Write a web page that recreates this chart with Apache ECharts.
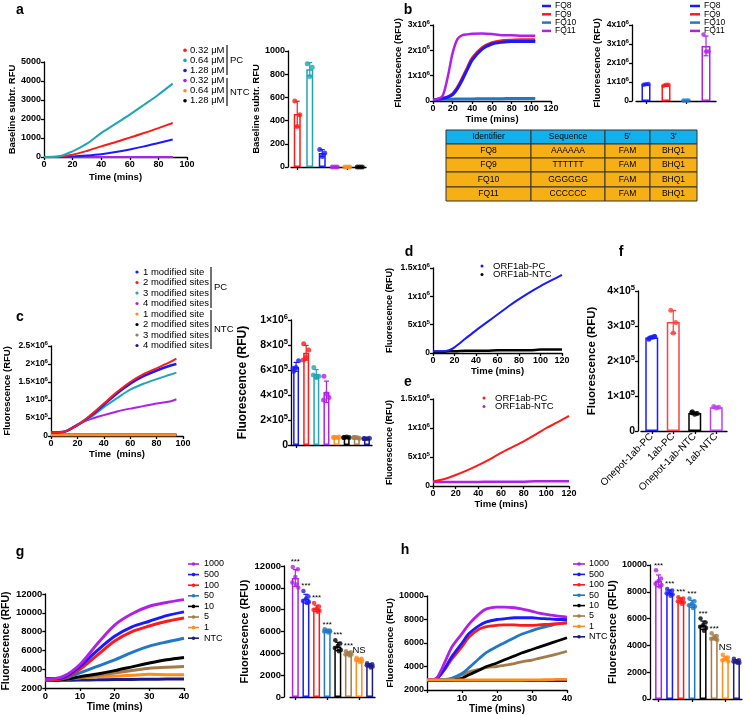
<!DOCTYPE html>
<html><head><meta charset="utf-8">
<script src="https://cdn.jsdelivr.net/npm/echarts/dist/echarts.min.js"></script>
<style>html,body{margin:0;padding:0;background:#fff}#c{width:745px;height:715px}</style>
</head><body><div id="c"></div>
<script>
// ---------------- DATA ----------------
// Panel a
const aTime = [0,10,20,30,40,50,60,70,80,90];
const aPC032 = [0,20,120,320,560,780,1020,1260,1520,1790];
const aPC064 = [0,30,300,700,1260,1740,2230,2750,3280,3860];
const aPC128 = [0,5,30,80,150,260,400,560,740,920];
const aNTC   = [0,0,0,0,0,0,0,0,0,0];
const aLegend = ['0.32 μM','0.64 μM','1.28 μM','0.32 μM','0.64 μM','1.28 μM'];
const aBarPts = [[570,450,350],[890,860,780],[150,120,90],[0,0,0],[0,0,0],[0,0,0]];
// Panel b
const bTime = [0,5,10,15,20,25,30,35,40,50,60,70,80,90,100,104];
const bFQ8  = [0.05,0.07,0.1,0.15,0.25,0.5,0.85,1.25,1.62,2.05,2.25,2.32,2.35,2.35,2.35,2.35];
const bFQ9  = [0.05,0.07,0.1,0.16,0.28,0.55,0.92,1.32,1.7,2.1,2.3,2.38,2.4,2.42,2.42,2.42];
const bFQ10 = [0.06,0.06,0.07,0.07,0.07,0.08,0.08,0.08,0.08,0.09,0.09,0.09,0.1,0.1,0.1,0.1];
const bFQ11 = [0.05,0.08,0.22,0.95,1.9,2.45,2.6,2.63,2.65,2.66,2.64,2.6,2.6,2.58,2.58,2.58];
const bNames = ['FQ8','FQ9','FQ10','FQ11'];
const bBarPts = [[0.85,0.9,0.88],[0.8,0.85,0.85],[0.02,0.02,0.02],[3.5,2.6,2.6]];
const tblHead = ['Identifier','Sequence','5′','3′'];
const tblRows = [['FQ8','AAAAAA','FAM','BHQ1'],['FQ9','TTTTTT','FAM','BHQ1'],['FQ10','GGGGGG','FAM','BHQ1'],['FQ11','CCCCCC','FAM','BHQ1']];
// Panel c
const cTime = [0,10,20,30,40,50,60,70,80,90,95];
const c1 = [0.1,0.12,0.3,0.56,0.87,1.18,1.45,1.66,1.82,1.95,2.0];
const c2 = [0.1,0.12,0.3,0.58,0.9,1.22,1.5,1.72,1.88,2.05,2.15];
const c3 = [0.1,0.12,0.3,0.52,0.8,1.05,1.29,1.45,1.58,1.7,1.76];
const c4 = [0.1,0.12,0.32,0.47,0.58,0.68,0.76,0.83,0.9,0.96,1.02];
const cNTC = [0.03,0.03,0.03,0.03,0.03,0.03,0.03,0.03,0.03,0.03,0.03];
const cLegend = ['1 modified site','2 modified sites','3 modified sites','4 modified sites','1 modified site','2 modified sites','3 modified sites','4 modified sites'];
const cBarPts = [[5.9,6.75,6.2,6.15],[8.1,7.6,7.0,6.8],[6.2,5.5,5.4,5.6],[5.5,3.8,4.1,3.6],[0.6,0.65,0.6,0.62],[0.6,0.6,0.65,0.6],[0.6,0.55,0.6,0.6],[0.5,0.55,0.5,0.52]];
// Panel d, e
const dTime = [0,10,15,20,30,40,50,60,70,80,90,100,110,120];
const dPC  = [0.03,0.03,0.05,0.1,0.25,0.4,0.54,0.68,0.82,0.95,1.07,1.18,1.28,1.38];
const dNTC = [0.02,0.02,0.03,0.03,0.04,0.04,0.04,0.05,0.05,0.05,0.05,0.06,0.06,0.06];
const eTime = [0,10,20,30,40,50,60,70,80,90,100,110,120];
const ePC  = [0.08,0.12,0.19,0.27,0.36,0.46,0.57,0.67,0.77,0.88,1.0,1.1,1.21];
const eNTC = [0.07,0.07,0.07,0.07,0.07,0.075,0.075,0.075,0.075,0.08,0.08,0.08,0.08];
const deLegend = ['ORF1ab-PC','ORF1ab-NTC'];
// Panel f
const fCats = ['Onepot-1ab-PC','1ab-PC','Onepot-1ab-NTC','1ab-NTC'];
const fPts = [[2.65,2.7,2.68,2.62,2.7],[3.45,3.1,2.8],[0.55,0.5,0.48,0.52],[0.7,0.68,0.66]];
// Panel g, h
const ghLegend = ['1000','500','100','50','10','5','1','NTC'];
const gTime = [0,5,10,15,20,25,30,35,40];
const gLines = [
  [2900,3200,4500,6700,8700,9900,10700,11100,11400],
  [3000,3100,4300,6000,7500,8500,9100,9700,10100],
  [2850,3000,4000,5500,7000,8000,8600,9100,9450],
  [2850,3000,3600,4300,5000,5800,6450,6900,7300],
  [2850,2900,3200,3500,3850,4250,4650,5000,5250],
  [2850,2900,3100,3350,3600,3850,4100,4200,4300],
  [2950,3000,3100,3200,3250,3350,3450,3420,3420],
  [2800,2820,2850,2870,2900,2910,2930,2950,2960]
];
const gBarPts = [
  [11900,11700,11000,10500,10000,10300],[9700,9200,9000,8800,8700,8600],
  [8600,8300,8100,8000,7900,7800],[6200,6100,6100,6000,6000,5900],
  [5200,4900,4700,4500,4300,4200],[4200,4100,4000,3900,3900,3800],
  [3600,3500,3400,3400,3300,3200],[3100,3000,2900,2900,2800,2700]
];
const hTime = [0,2,3,5,7,10,12,15,17,20,22,25,27,30,32,35,37,40];
const hLines = [
  [2900,2900,3100,4300,5600,6800,7600,8500,8900,9050,9050,9000,8900,8700,8550,8400,8300,8200],
  [2900,2900,3000,3800,4800,6000,6800,7500,7800,8000,8050,8150,8150,8150,8100,8050,8000,8000],
  [2900,2900,3000,3700,4600,5700,6500,7200,7400,7500,7550,7550,7500,7500,7550,7600,7650,7700],
  [2900,2900,2900,2900,3000,3400,3900,4700,5200,5700,6000,6450,6750,7050,7250,7450,7600,7750],
  [2800,2800,2800,2800,2850,3000,3300,3700,4000,4300,4550,4900,5150,5450,5650,5950,6150,6450],
  [2800,2800,2800,2850,2950,3300,3550,3750,3900,4000,4100,4250,4400,4550,4700,4900,5050,5300],
  [2850,2850,2850,2850,2850,2850,2850,2850,2850,2850,2850,2850,2850,2860,2870,2880,2900,2900],
  [2800,2800,2800,2800,2800,2800,2800,2800,2800,2800,2800,2800,2800,2800,2800,2800,2800,2800]
];
const hBarPts = [
  [9600,9000,8800,8600,8500,8400],[8200,8100,8000,7900,7800,7700],
  [7600,7500,7400,7300,7200,7100],[7500,7300,7100,7000,6900,6800],
  [6000,5700,5500,5400,5300,5100],[4900,4700,4600,4500,4400,4500],
  [3300,3100,3000,2900,2800,3000],[3000,2900,2800,2800,2700,2700]
];
const sigLabels = ['***','***','***','***','***','***','NS',''];

// ---------------- STYLE ----------------
const FONT = '"Liberation Sans", Arial, sans-serif';
const RED='#ff1a1a', BLUE='#1a1aff', CYAN='#1fa5b5', PURP='#b020e8', ORNG='#ff8c1a', BLK='#000000', BRWN='#a47a48', NAVY='#1a1a8a', STEEL='#1f78c8';
const aCols=[RED,CYAN,BLUE,PURP,ORNG,BLK];
const bCols=[BLUE,RED,STEEL,PURP];
const cCols=[BLUE,RED,CYAN,PURP,ORNG,BLK,BRWN,NAVY];
const ghCols=[PURP,BLUE,RED,STEEL,BLK,BRWN,ORNG,NAVY];
const JIT=[-2.5,2.5,0,-3,3,1];

function sci(sep, scale){ return v => { v=v*scale; if(Math.abs(v)<1e-9) return '{b|0}'; const e=Math.floor(Math.log10(v)+1e-9); const m=+(v/Math.pow(10,e)).toFixed(2); return '{b|'+m+sep+'10}{s|'+e+'}'; }; }
function richFor(fs){ return {b:{fontSize:fs,fontWeight:'bold',fontFamily:FONT,color:'#000',lineHeight:fs+3},
  s:{fontSize:Math.round(fs*0.72*10)/10,fontWeight:'bold',fontFamily:FONT,color:'#000',lineHeight:fs*0.72,verticalAlign:'top'}}; }
const plain = v=>String(v);

const grids=[], xAxes=[], yAxes=[], series=[], graphics=[];
function mkAxis(o){
  const fs=o.fs||9;
  const a={gridIndex:o.grid,type:o.type||'value',
    axisLine:{show:true,onZero:false,lineStyle:{color:'#000',width:1.3}},
    axisTick:{show:true,length:3,alignWithLabel:true,lineStyle:{color:'#000',width:1.3}},
    splitLine:{show:false},
    axisLabel:Object.assign({color:'#000',fontFamily:FONT,fontWeight:'bold',fontSize:fs,margin:3,rich:richFor(fs)},
      (o.type==='category')?{}:{formatter:plain}, o.label||{}),
    name:o.name||'',nameLocation:'middle',nameGap:o.gap||20,
    nameTextStyle:{color:'#000',fontFamily:FONT,fontWeight:'bold',fontSize:o.nfs||10}};
  ['min','max','interval','data','offset'].forEach(k=>{if(o[k]!==undefined)a[k]=o[k];});
  return a;
}
function panel(g,xo,yo){
  const i=grids.length;
  grids.push({left:g[0],top:g[1],width:g[2],height:g[3]});
  xo.grid=i; yo.grid=i;
  xAxes.push(mkAxis(xo)); yAxes.push(mkAxis(yo));
  return i;
}
function addLine(gi,xs,ys,color,w,z){
  series.push({type:'line',xAxisIndex:gi,yAxisIndex:gi,data:xs.map((x,i)=>[x,ys[i]]),symbol:'none',smooth:0.3,
    lineStyle:{color:color,width:w||2},itemStyle:{color:color},z:z||2,silent:true,animation:false});
}
function addBars(gi,pts,colors,opt){
  const means=pts.map(p=>p.reduce((a,b)=>a+b,0)/p.length);
  const sds=pts.map((p,i)=>{const m=means[i];return p.length>1?Math.sqrt(p.reduce((a,b)=>a+(b-m)*(b-m),0)/(p.length-1)):0;});
  series.push({type:'bar',xAxisIndex:gi,yAxisIndex:gi,barWidth:opt.bw,animation:false,silent:true,z:2,
    data:means.map((m,i)=>({value:m,itemStyle:{color:'rgba(255,255,255,0)',borderColor:colors[i],borderWidth:1.5}}))});
  series.push({type:'custom',xAxisIndex:gi,yAxisIndex:gi,animation:false,silent:true,z:4,
    data:means.map((m,i)=>[i,m,sds[i]]),
    renderItem:(params,api)=>{
      const i=api.value(0),m=api.value(1),s=api.value(2),c=colors[i];
      const pc=api.coord([i,m]),pt=api.coord([i,m+s]),pb=api.coord([i,Math.max(m-s,0)]);
      const cw=opt.cap||2.5;
      const ch=[];
      if(s>0){
        ch.push({type:'line',shape:{x1:pc[0],y1:pt[1],x2:pc[0],y2:pb[1]},style:{stroke:c,lineWidth:1.2}});
        ch.push({type:'line',shape:{x1:pc[0]-cw,y1:pt[1],x2:pc[0]+cw,y2:pt[1]},style:{stroke:c,lineWidth:1.2}});
        ch.push({type:'line',shape:{x1:pc[0]-cw,y1:pb[1],x2:pc[0]+cw,y2:pb[1]},style:{stroke:c,lineWidth:1.2}});
      }
      if(opt.sig && opt.sig[i]){
        const t=opt.sig[i];
        const topY=Math.min(pt[1],api.coord([i,Math.max.apply(null,pts[i])])[1]);
        ch.push({type:'text',x:pc[0],y:topY-(t==='NS'?2:1),style:{text:t,fill:'#000',fontSize:t==='NS'?9.5:8,fontFamily:FONT,align:'center',verticalAlign:'bottom',textAlign:'center',textVerticalAlign:'bottom'}});
      }
      return {type:'group',children:ch};
    }});
  const sd=[];
  pts.forEach((p,i)=>p.forEach((v,j)=>sd.push({value:[i,v],symbolOffset:[opt.noJit?0:JIT[j%JIT.length],0],itemStyle:{color:colors[i]}})));
  series.push({type:'scatter',xAxisIndex:gi,yAxisIndex:gi,symbolSize:opt.ss||4.5,data:sd,z:5,animation:false,silent:true});
}
function txt(x,y,t,o){
  o=o||{};
  graphics.push({type:'text',x:x,y:y,style:{text:t,fill:'#000',font:(o.w||'normal')+' '+(o.fs||9)+'px '+FONT,
    textAlign:o.al||'left',textVerticalAlign:o.va||'middle',align:o.al||'left',verticalAlign:o.va||'middle'}});
}
function legendDots(x,tx,y0,gap,labels,colors,fs,r){
  labels.forEach((t,i)=>{const y=y0+i*gap;
    graphics.push({type:'circle',shape:{cx:x,cy:y,r:r||1.7},style:{fill:colors[i]}});
    txt(tx,y,t,{fs:fs||9});});
}
function legendLines(x1,x2,tx,y0,gap,labels,colors,fs,marker,lw){
  labels.forEach((t,i)=>{const y=y0+i*gap;
    graphics.push({type:'line',shape:{x1:x1,y1:y,x2:x2,y2:y},style:{stroke:colors[i],lineWidth:lw||1.6}});
    if(marker) graphics.push({type:'circle',shape:{cx:(x1+x2)/2,cy:y,r:1.8},style:{fill:colors[i]}});
    txt(tx,y,t,{fs:fs||9});});
}
function bracket(x,y1,y2,label,fs){
  graphics.push({type:'line',shape:{x1:x,y1:y1,x2:x,y2:y2},style:{stroke:'#444',lineWidth:1.5}});
  txt(x+3,(y1+y2)/2,label,{fs:fs||9});
}

// ---------------- PANELS ----------------
const timeName='Time (mins)';
// a line
let g=panel([44,62,143,95],{min:0,max:100,interval:20,name:timeName,gap:15,fs:9,nfs:9.5},{min:0,max:5000,interval:1000,name:'Baseline subtr. RFU',gap:25,fs:9,nfs:9.5});
[aNTC,aNTC,aNTC].forEach((d,k)=>addLine(g,aTime,d,[BLK,ORNG,PURP][k],2));
addLine(g,aTime,aPC128,BLUE,2);addLine(g,aTime,aPC032,RED,2);addLine(g,aTime,aPC064,CYAN,2);
// a bar
g=panel([291,51,75,116],{type:'category',data:aLegend.map((s,i)=>s+i),label:{show:false}},{min:0,max:1000,interval:200,name:'Baseline subtr. RFU',gap:21,offset:3,fs:9,nfs:9.5});
addBars(g,aBarPts,aCols,{bw:7,ss:5});
// b line
g=panel([433,25,118,76],{min:0,max:120,interval:20,name:timeName,gap:11,fs:9,nfs:9.5},{min:0,max:3,interval:1,name:'Fluorescence (RFU)',gap:28,fs:8.5,nfs:9.5,label:{formatter:sci('x',1e6)}});
addLine(g,bTime,bFQ10,STEEL,3);addLine(g,bTime,bFQ9,RED,3);addLine(g,bTime,bFQ8,BLUE,3);addLine(g,bTime,bFQ11,PURP,2.5);
// b bar
g=panel([636,25,80,76],{type:'category',data:bNames,label:{show:false}},{min:0,max:4,interval:1,name:'Fluorescence (RFU)',gap:28,offset:4,fs:8.5,nfs:9.5,label:{formatter:sci('x',1e6)}});
addBars(g,bBarPts,bCols,{bw:9,ss:4.5});
// c line
g=panel([51,346,132,90],{min:0,max:100,interval:20,name:'Time  (mins)',gap:12,fs:9,nfs:9.5},{min:0,max:2.5,interval:0.5,name:'Fluorescence (RFU)',gap:39,fs:8.5,nfs:9.5,label:{formatter:sci('×',1e6)}});
[cNTC,cNTC,cNTC,cNTC].forEach((d,k)=>addLine(g,cTime,d,[NAVY,BRWN,BLK,ORNG][k],2.5));
addLine(g,cTime,c4,PURP,2);addLine(g,cTime,c3,CYAN,2);addLine(g,cTime,c1,BLUE,2.5);addLine(g,cTime,c2,RED,2);
// c bar
g=panel([291,320,81,125],{type:'category',data:cLegend.map((s,i)=>s+i),label:{show:false}},{min:0,max:10,interval:2,name:'Fluorescence (RFU)',gap:42,fs:10.5,nfs:12,label:{formatter:sci('×',1e5)}});
addBars(g,cBarPts,cCols,{bw:6,ss:5});
// d line
g=panel([433,268,129,85],{min:0,max:120,interval:20,name:timeName,gap:12,fs:9,nfs:9.5},{min:0,max:1.5,interval:0.5,name:'Fluorescence (RFU)',gap:39,fs:8.5,nfs:9,label:{formatter:sci('x',1e6)}});
addLine(g,dTime,dNTC,BLK,2.5);addLine(g,dTime,dPC,BLUE,2);
// e line
g=panel([433,399,136,87],{min:0,max:120,interval:20,name:timeName,gap:13,fs:9,nfs:9.5},{min:0,max:1.5,interval:0.5,name:'Fluorescence (RFU)',gap:39,fs:8.5,nfs:9,label:{formatter:sci('x',1e6)}});
addLine(g,eTime,eNTC,PURP,2.5);addLine(g,eTime,ePC,RED,2);
// f bar
g=panel([641,291,86,140],{type:'category',data:fCats,label:{rotate:45,fontWeight:'normal',fontSize:10,margin:4}},{min:0,max:4,interval:1,name:'Fluorescence (RFU)',gap:40,offset:3,fs:10.5,nfs:11.5,label:{formatter:sci('×',1e5)}});
addBars(g,fPts,[BLUE,'#ff4040',BLK,'#c040f0'],{bw:13,ss:5,cap:3});
// g line
g=panel([42,594,142,94],{min:0,max:40,interval:10,name:timeName,gap:14,fs:9.5,nfs:10},{min:2000,max:12000,interval:2000,name:'Fluorescence (RFU)',gap:31,fs:9.5,nfs:10.5});
for(let k=gLines.length-1;k>=0;k--) addLine(g,gTime,gLines[k],ghCols[k],3,2+(gLines.length-k));
// g bar
g=panel([290,566,85,131],{type:'category',data:ghLegend,label:{show:false}},{min:0,max:12000,interval:2000,name:'Fluorescence (RFU)',gap:28,offset:6,fs:9.5,nfs:11});
addBars(g,gBarPts,ghCols,{bw:7,ss:4.5,sig:sigLabels});
// h line
g=panel([427,596,140,94],{min:0,max:40,interval:10,name:timeName,gap:14,fs:9.5,nfs:10,label:{formatter:v=>v===0?'':String(v)}},{min:2000,max:10000,interval:2000,name:'Fluorescence (RFU)',gap:27,fs:9,nfs:9.5});
[7,5,4,3,2,1,0,6].forEach(k=>addLine(g,hTime,hLines[k],ghCols[k],2.8));
// h bar
g=panel([653,565,89,134],{type:'category',data:ghLegend,label:{show:false}},{min:0,max:10000,interval:2000,name:'Fluorescence (RFU)',gap:26,offset:3,fs:9,nfs:11});
addBars(g,hBarPts,ghCols,{bw:7,ss:4.5,sig:sigLabels});

// ---------------- LEGENDS, LABELS, TABLE ----------------
[['a',20,10],['b',408,10],['c',20,317],['d',409,252],['e',408,382],['f',621,252],['g',20,552],['h',405,550]].forEach(p=>txt(p[1],p[2],p[0],{w:'bold',fs:14,al:'center'}));
legendDots(185,190,50.3,10.1,aLegend,aCols,9.5,1.8);
bracket(227,45,75,'PC',9.5); bracket(227,78,106,'NTC',9.5);
legendLines(542,551,555,6,8.3,bNames,bCols,8.5,false,2.5);
legendLines(690,700,704,6,8.3,bNames,bCols,8.5,false,2.5);
legendDots(137,143,272,10.5,cLegend,cCols,9.5,1.6);
bracket(211,267,308,'PC',9.5); bracket(211,310,349,'NTC',9.5);
legendDots(482,493,266,8.5,deLegend,[BLUE,BLK],9.5,1.5);
legendDots(484,495,398,8.5,deLegend,[RED,PURP],9.5,1.5);
legendLines(188,199,204,564,10.6,ghLegend,ghCols,9,true);
legendLines(573,585,589,564,10.4,ghLegend,ghCols,9,true);
// table
const colX=[446,531,605,650,697], rowY=[130,144,158,172,187,201];
for(let r=0;r<5;r++){
  const row = r===0?tblHead:tblRows[r-1];
  for(let c=0;c<4;c++){
    graphics.push({type:'rect',shape:{x:colX[c],y:rowY[r],width:colX[c+1]-colX[c],height:rowY[r+1]-rowY[r]},
      style:{fill:r===0?'#12b0ec':'#f6b015',stroke:'#333',lineWidth:1}});
    txt((colX[c]+colX[c+1])/2,(rowY[r]+rowY[r+1])/2,row[c],{fs:8.5,al:'center'});
  }
}

const chart=echarts.init(document.getElementById('c'),null,{renderer:'canvas',width:745,height:715});
chart.setOption({animation:false,backgroundColor:'#fff',grid:grids,xAxis:xAxes,yAxis:yAxes,series:series,graphic:{elements:graphics}});
</script></body></html>
